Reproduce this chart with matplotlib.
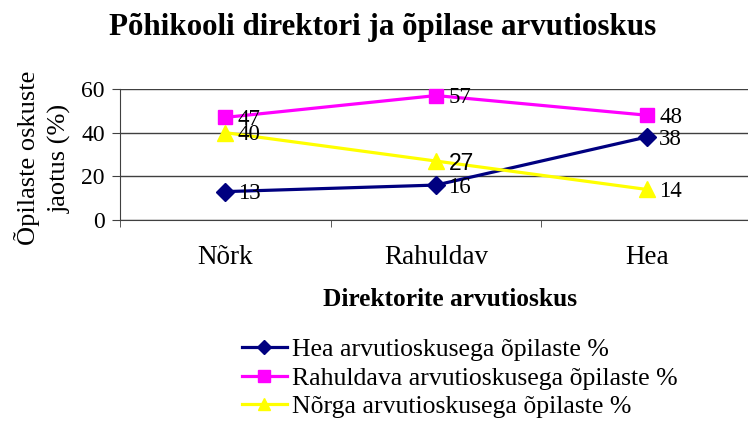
import numpy as np
import matplotlib
matplotlib.use("Agg")
import matplotlib.pyplot as plt
from matplotlib.ticker import FixedLocator

plt.rcParams['font.family'] = ['Liberation Serif', 'DejaVu Serif']

# Andmed
categories = ["Nõrk", "Rahuldav", "Hea"]
hea = [13, 16, 38]
rahuldav = [47, 57, 48]
norga = [40, 27, 14]
series_names = ["Hea arvutioskusega õpilaste %",
                "Rahuldava arvutioskusega õpilaste %",
                "Nõrga arvutioskusega õpilaste %"]

fig = plt.figure(figsize=(7.48, 4.23), dpi=100)
ax = fig.add_axes([120 / 748, 1 - 220 / 423, 632 / 748, 131 / 423])

x = np.arange(len(categories)) + 0.5
styles = [
    (hea, "#000080", "D", 9),
    (rahuldav, "#FF00FF", "s", 10),
    (norga, "#FFFF00", "^", 11),
]
for (vals, col, mk, ms), name in zip(styles, series_names):
    ax.plot(x, vals, color=col, marker=mk, markersize=ms, linewidth=2.3,
            label=name, clip_on=False, zorder=3)
    for xi, v in zip(x, vals):
        fam = ['Liberation Sans'] if v == 27 else ['Liberation Serif']
        ax.annotate(str(v), (xi, v), xytext=(9, -1.5), textcoords="offset points",
                    ha="left", va="center", fontsize=16.5, family=fam, zorder=4)

ax.set_xlim(0, 3)
ax.set_ylim(0, 60)
ax.set_yticks([0, 20, 40, 60])
ax.yaxis.grid(True, color="#404040", linewidth=1)
ax.set_axisbelow(True)
ax.set_xticks(x)
ax.set_xticklabels(categories)
ax.xaxis.set_minor_locator(FixedLocator([0, 1, 2, 3]))
ax.tick_params(axis="x", which="major", length=0, pad=18, labelsize=19.5)
ax.tick_params(axis="x", which="minor", length=5, color="#404040")
ax.tick_params(axis="y", length=6, labelsize=17, color="#404040", pad=5)
for s in ["top", "right"]:
    ax.spines[s].set_visible(False)
ax.spines["left"].set_color("#404040")
ax.spines["bottom"].set_color("#404040")

fig.text(383 / 748, 1 - 27 / 423, "Põhikooli direktori ja õpilase arvutioskus",
         ha="center", va="center", fontsize=22.3, fontweight="bold")
fig.text(450 / 748, 1 - 299 / 423, "Direktorite arvutioskus",
         ha="center", va="center", fontsize=18.3, fontweight="bold")
fig.text(43 / 748, 1 - 158 / 423, "Õpilaste oskuste\njaotus (%)",
         ha="center", va="center", rotation=90, fontsize=19, linespacing=1.45)

ax.legend(loc="upper left", bbox_to_anchor=(242 / 748, 1 - 338 / 423),
          bbox_transform=fig.transFigure, frameon=False, fontsize=18.5,
          handlelength=1.75, handletextpad=0.2, labelspacing=0.22,
          borderpad=0, borderaxespad=0, markerscale=0.8)

fig.savefig("out.png", dpi=100)
